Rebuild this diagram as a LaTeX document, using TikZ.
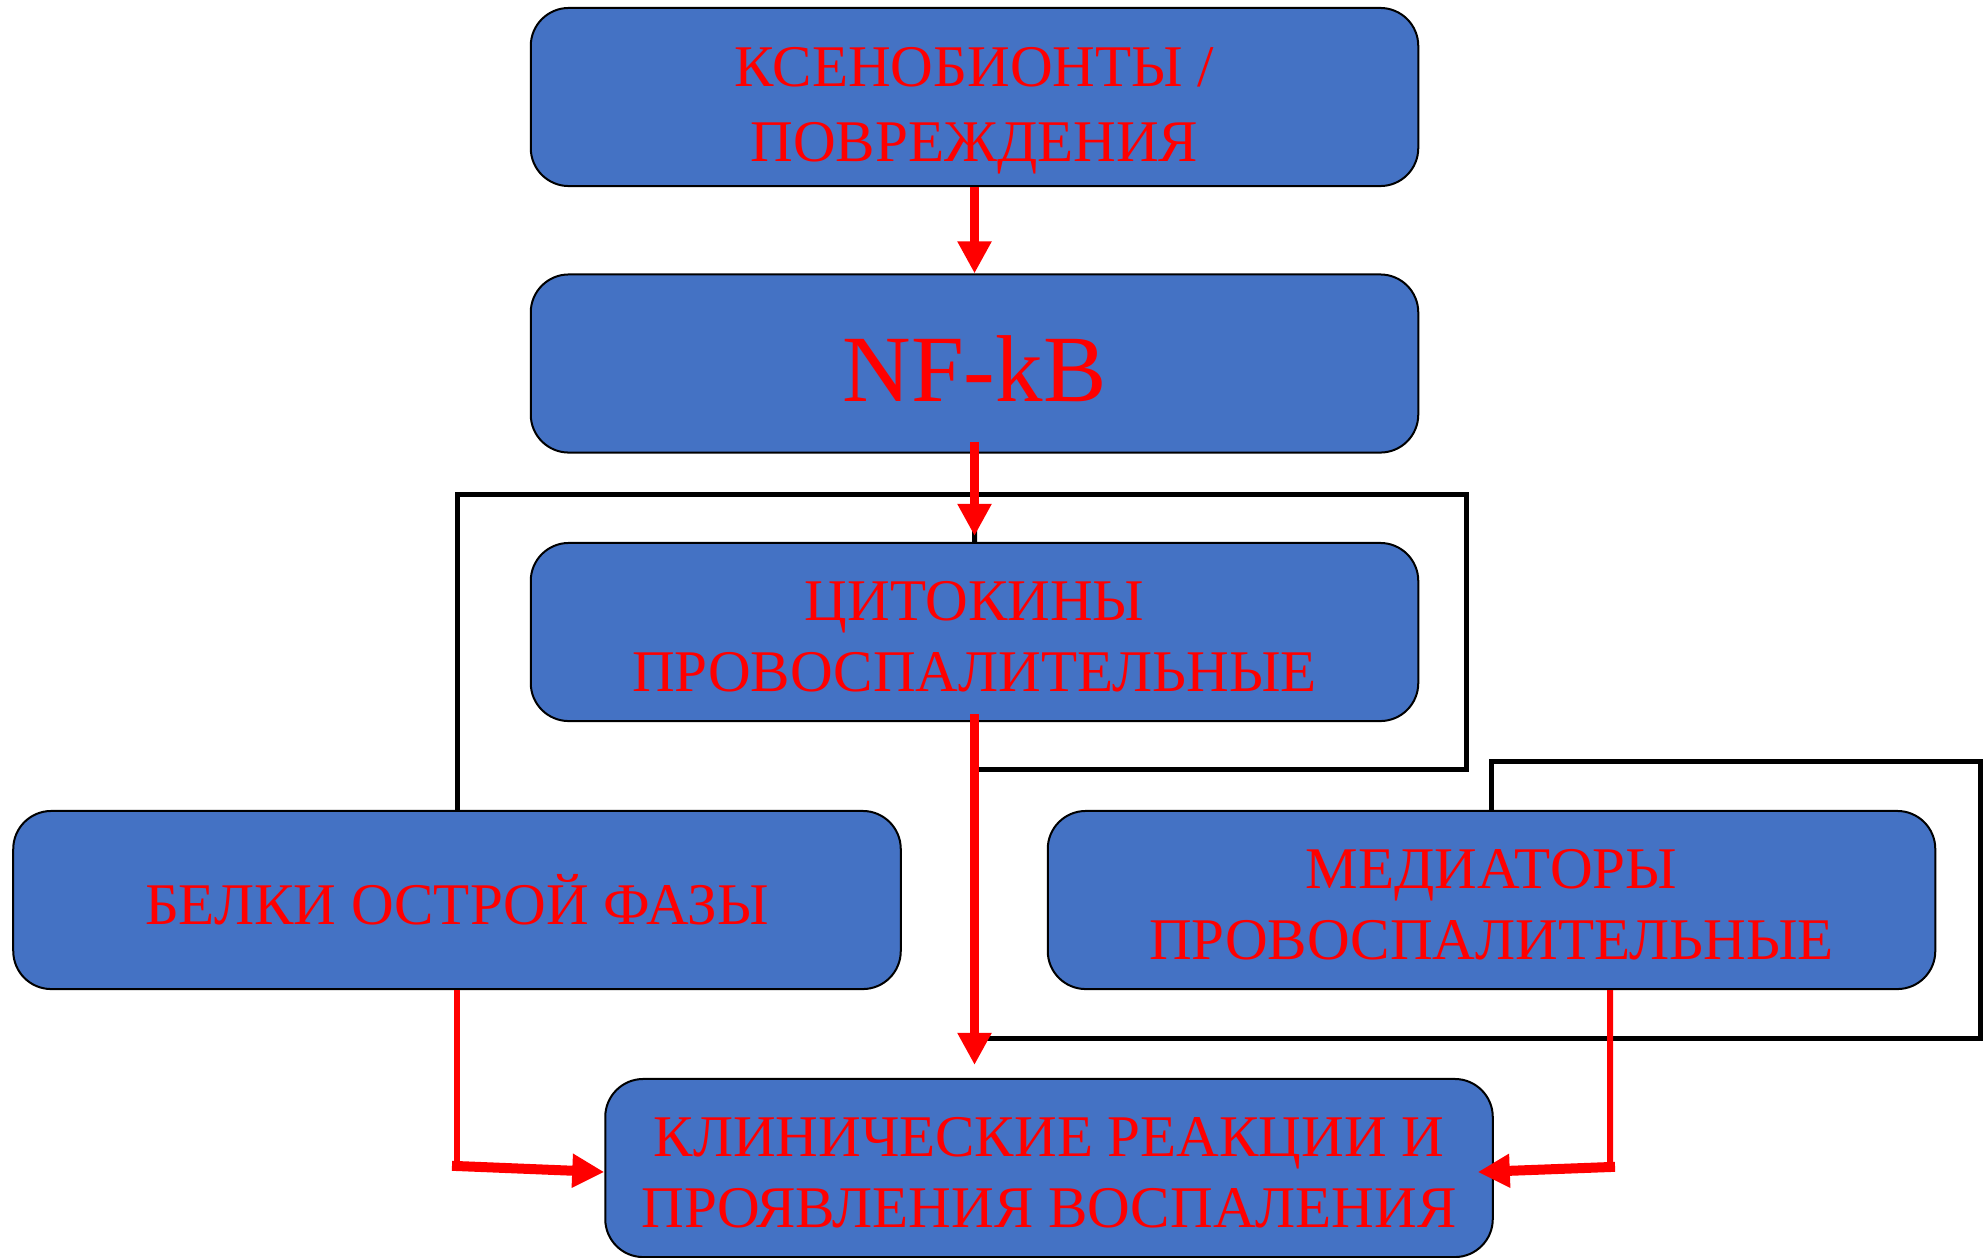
\documentclass[tikz,border=0pt]{standalone}
\usepackage{fontspec}
\setmainfont{Liberation Serif}
\usetikzlibrary{arrows.meta}
\definecolor{boxblue}{HTML}{4472C4}
\tikzset{
  blok/.style={draw=black, line width=0.02cm, fill=boxblue, rounded corners=0.38cm,
    minimum width=8.87cm, minimum height=1.78cm, inner sep=0pt, align=center,
    text=red, font=\fontsize{16.8}{20.2}\selectfont},
  twoline/.style={text height=1.19cm},
  ramka/.style={draw=black, line width=0.05cm},
  redarrow/.style={draw=red, line width=0.09cm, -{Triangle[length=0.32cm,width=0.32cm]}},
  thinred/.style={draw=red, line width=0.06cm},
  sidearrow/.style={draw=red, line width=0.1cm, line cap=rect, -{Triangle[length=0.32cm,width=0.32cm]}}
}

\begin{document}
\begin{tikzpicture}[x=0.01cm, y=-0.01cm]
	%%%%% START %%%%%
	\useasboundingbox (0,0) rectangle (1983,1257);
	
	\node[blok, font=\fontsize{16.8}{21.2}\selectfont, text height=1.41cm] (ksen) at (974.5,97) {КСЕНОБИОНТЫ /\\ПОВРЕЖДЕНИЯ};
	\node[blok, font=\fontsize{27}{30}\selectfont, text height=0.77cm] (nfkb) at (974.5,363.5) {NF-kB};
	\node[blok, twoline] (cyto) at (974.5,632) {ЦИТОКИНЫ\\ПРОВОСПАЛИТЕЛЬНЫЕ};
	\node[blok] (belki) at (457,900) {БЕЛКИ ОСТРОЙ ФАЗЫ};
	\node[blok, twoline] (medi) at (1491.5,900) {МЕДИАТОРЫ\\ПРОВОСПАЛИТЕЛЬНЫЕ};
	\node[blok, twoline] (klin) at (1049,1168) {КЛИНИЧЕСКИЕ РЕАКЦИИ И\\ПРОЯВЛЕНИЯ ВОСПАЛЕНИЯ};
	
	% frames
	\draw[ramka] (975,769) -- (1466,769) -- (1466,494) -- (457,494) -- (belki.north);
	\draw[ramka] (975,494) -- (cyto.north);
	\draw[ramka] (medi.north) -- (1491.5,761) -- (1980,761) -- (1980,1038) -- (975,1038);
	
	% arrows
	\draw[redarrow] (ksen.south) -- (nfkb.north);
	\draw[redarrow, shorten <=-0.12cm] (nfkb.south) -- ([yshift=0.06cm]cyto.north);
	\draw[redarrow, shorten <=-0.08cm] (cyto.south) -- ([yshift=0.13cm]cyto.south |- klin.north);
	
	\coordinate (lbend) at (457,1166);
	\draw[thinred] (belki.south) -- (lbend);
	\draw[sidearrow] (lbend) -- ([yshift=-0.04cm]klin.west);
	
	\coordinate (rtop) at ([xshift=1.185cm]medi.south);
	\coordinate (rbend) at (1610,1167);
	\draw[thinred] (rtop) -- (rbend);
	\draw[sidearrow] (rbend) -- ([xshift=-0.16cm,yshift=-0.04cm]klin.east);
	
	%%%%% END %%%%%
\end{tikzpicture}
\end{document}
